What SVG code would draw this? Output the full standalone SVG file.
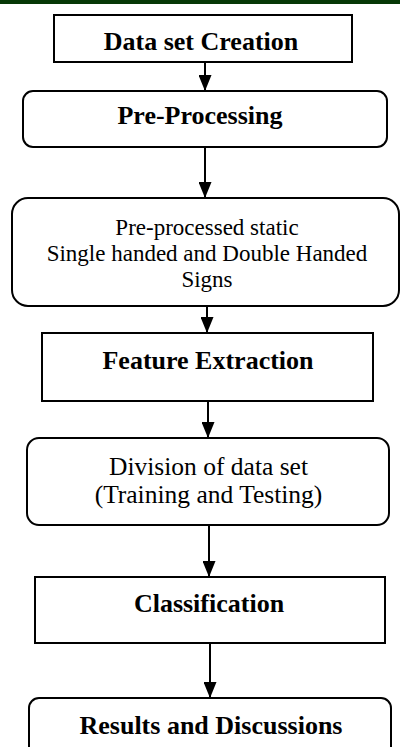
<svg xmlns="http://www.w3.org/2000/svg" width="400" height="747" viewBox="0 0 400 747">
<defs>
<style>
.box{fill:#fff;stroke:#000;stroke-width:2}
.b{font-family:"Liberation Serif","Times New Roman",serif;font-weight:bold;font-size:26px;text-anchor:middle;fill:#000}
.r{font-family:"Liberation Serif","Times New Roman",serif;font-size:23px;text-anchor:middle;fill:#000}
.r26{font-family:"Liberation Serif","Times New Roman",serif;font-size:25.5px;text-anchor:middle;fill:#000}
.edge{stroke:#000;stroke-width:2;fill:none}
</style>
<marker id="ah" viewBox="0 0 16 13" refX="16" refY="6.5" markerWidth="16" markerHeight="13" markerUnits="userSpaceOnUse" orient="auto">
<path d="M0,0 L16,6.5 L0,13 Z" fill="#000"/>
</marker>
</defs>
<rect x="0" y="0" width="400" height="4" fill="#063806"/>
<g id="edges">
<line class="edge" x1="205" y1="62" x2="205" y2="91" marker-end="url(#ah)"/>
<line class="edge" x1="205" y1="147" x2="205" y2="198" marker-end="url(#ah)"/>
<line class="edge" x1="207" y1="306" x2="207" y2="333" marker-end="url(#ah)"/>
<line class="edge" x1="208" y1="401" x2="208" y2="438" marker-end="url(#ah)"/>
<line class="edge" x1="209" y1="525" x2="209" y2="577" marker-end="url(#ah)"/>
<line class="edge" x1="210" y1="643" x2="210" y2="698" marker-end="url(#ah)"/>
</g>
<g id="n1">
<rect class="box" x="54" y="15" width="298" height="47"/>
<text class="b" x="201" y="50">Data set Creation</text>
</g>
<g id="n2">
<rect class="box" x="23" y="91" width="364" height="56" rx="10"/>
<text class="b" x="200" y="124">Pre-Processing</text>
</g>
<g id="n3">
<rect class="box" x="12" y="198" width="387" height="108" rx="16"/>
<text class="r" x="207" y="235">Pre-processed static</text>
<text class="r" x="207" y="261">Single handed and Double Handed</text>
<text class="r" x="207" y="287">Signs</text>
</g>
<g id="n4">
<rect class="box" x="42" y="333" width="331" height="68"/>
<text class="b" x="208" y="369">Feature Extraction</text>
</g>
<g id="n5">
<rect class="box" x="27" y="438" width="362" height="87" rx="12"/>
<text class="r26" x="208.5" y="475">Division of data set</text>
<text class="r26" x="208.5" y="503">(Training and Testing)</text>
</g>
<g id="n6">
<rect class="box" x="35" y="577" width="350" height="66"/>
<text class="b" x="209" y="612">Classification</text>
</g>
<g id="n7">
<rect class="box" x="29" y="698" width="362" height="70" rx="10"/>
<text class="b" x="211" y="734">Results and Discussions</text>
</g>
</svg>
